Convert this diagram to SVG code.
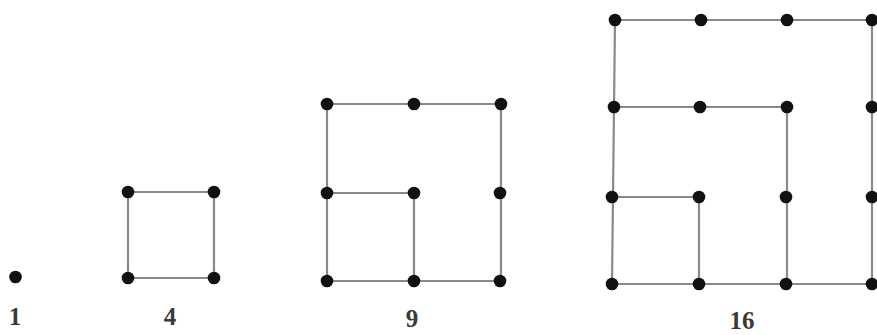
<svg xmlns="http://www.w3.org/2000/svg" width="877" height="335" viewBox="0 0 877 335">
<style>
.e{stroke:#8a8a8a;stroke-width:2.2;fill:none}
.d{fill:#111}
.t{font-family:"Liberation Serif",serif;font-size:25px;font-weight:bold;fill:#3a3a3a;text-anchor:middle}
</style>
<rect width="877" height="335" fill="#fff"/>
<g id="connectors">
<path class="e" d="M128,192H214V278H128Z"/>
<path class="e" d="M327,104H501V281H327ZM327,193H414V281"/>
<path class="e" d="M615,20H872V284H612L615,20ZM614,107H787V284M612,197H699V284"/>
</g>
<g id="n1"><circle class="d" cx="15.5" cy="277" r="6.3"/></g>
<g id="n4">
<circle class="d" cx="128" cy="192" r="6.3"/><circle class="d" cx="214" cy="192" r="6.3"/>
<circle class="d" cx="128" cy="278" r="6.3"/><circle class="d" cx="214" cy="278" r="6.3"/>
</g>
<g id="n9">
<circle class="d" cx="327" cy="104" r="6.3"/><circle class="d" cx="414" cy="104" r="6.3"/><circle class="d" cx="501" cy="104" r="6.3"/>
<circle class="d" cx="327" cy="193" r="6.3"/><circle class="d" cx="414" cy="193" r="6.3"/><circle class="d" cx="500" cy="193" r="6.3"/>
<circle class="d" cx="327" cy="281" r="6.3"/><circle class="d" cx="414" cy="281" r="6.3"/><circle class="d" cx="500" cy="281" r="6.3"/>
</g>
<g id="n16">
<circle class="d" cx="615" cy="20" r="6.3"/><circle class="d" cx="701" cy="20" r="6.3"/><circle class="d" cx="787" cy="20" r="6.3"/><circle class="d" cx="872" cy="20" r="6.3"/>
<circle class="d" cx="614" cy="107" r="6.3"/><circle class="d" cx="700" cy="107" r="6.3"/><circle class="d" cx="787" cy="107" r="6.3"/><circle class="d" cx="872" cy="107" r="6.3"/>
<circle class="d" cx="612" cy="197" r="6.3"/><circle class="d" cx="699" cy="197" r="6.3"/><circle class="d" cx="786" cy="197" r="6.3"/><circle class="d" cx="872" cy="197" r="6.3"/>
<circle class="d" cx="612" cy="284" r="6.3"/><circle class="d" cx="699" cy="284" r="6.3"/><circle class="d" cx="786" cy="284" r="6.3"/><circle class="d" cx="872" cy="284" r="6.3"/>
</g>
<g id="labels">
<text class="t" x="15" y="325">1</text>
<text class="t" x="170" y="325">4</text>
<text class="t" x="412" y="327">9</text>
<text class="t" x="742" y="329">16</text>
</g>
</svg>
